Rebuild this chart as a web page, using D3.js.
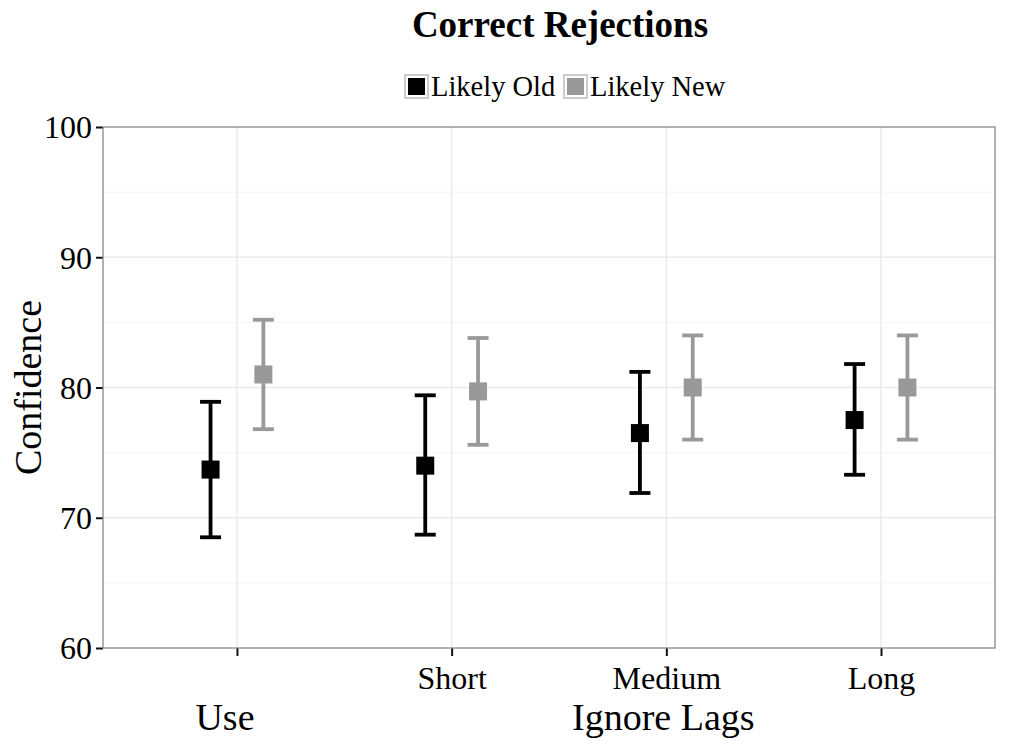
<!DOCTYPE html>
<html>
<head>
<meta charset="utf-8">
<script src="https://cdn.jsdelivr.net/npm/d3@7"></script>
<style>
    body { margin: 0; background: #fff; }
    #chart-area { width: 1011px; height: 751px; }
    text { font-family: "Liberation Serif", "Times New Roman", serif; fill: #000; }
</style>
</head>
<body>
<div id="chart-area"></div>
<script>

// data
let categories = ["Use", "Short", "Medium", "Long"];
let tickLabels = ["", "Short", "Medium", "Long"];
let seriesNames = ["Likely Old", "Likely New"];
let seriesColors = ["#000000", "#999999"];

let oldMean = [73.7, 74.0, 76.5, 77.5];
let oldLow  = [68.5, 68.7, 71.9, 73.3];
let oldHigh = [78.9, 79.4, 81.2, 81.8];

let newMean = [81.0, 79.7, 80.0, 80.0];
let newLow  = [76.8, 75.6, 76.0, 76.0];
let newHigh = [85.2, 83.8, 84.0, 84.0];

let yTicks = [60, 70, 80, 90, 100];
let yMinor = [65, 75, 85, 95];

class errorBarVis {
    constructor(parentElement){
        this.parentElement = parentElement;
        this.initVis()
    }

    initVis(){
        let vis = this;

        vis.margin = {top: 127, right: 16, bottom: 103, left: 103};
        vis.width = 1011 - vis.margin.left - vis.margin.right;
        vis.height = 751 - vis.margin.top - vis.margin.bottom;

        vis.root = d3.select("#" + vis.parentElement).append("svg")
            .attr("width", 1011)
            .attr("height", 751);

        vis.svg = vis.root.append("g")
            .attr("transform", `translate (${vis.margin.left}, ${vis.margin.top})`);

        // scales
        vis.x = d3.scaleLinear()
            .domain([-0.624, 3.531])
            .range([0, vis.width]);

        vis.y = d3.scaleLinear()
            .domain([60, 100])
            .range([vis.height, 0]);

        vis.dodge = 0.123;

        // grid
        vis.svg.selectAll(".minor-grid")
            .data(yMinor)
            .enter().append("line")
            .attr("x1", 0).attr("x2", vis.width)
            .attr("y1", d => vis.y(d)).attr("y2", d => vis.y(d))
            .attr("stroke", "#f7f7f7")
            .attr("stroke-width", 1.5);

        vis.svg.selectAll(".major-grid")
            .data(yTicks.slice(1, -1))
            .enter().append("line")
            .attr("x1", 0).attr("x2", vis.width)
            .attr("y1", d => vis.y(d)).attr("y2", d => vis.y(d))
            .attr("stroke", "#ebebeb")
            .attr("stroke-width", 1.5);

        vis.svg.selectAll(".x-grid")
            .data(categories.map((d, i) => i))
            .enter().append("line")
            .attr("x1", d => vis.x(d)).attr("x2", d => vis.x(d))
            .attr("y1", 0).attr("y2", vis.height)
            .attr("stroke", "#ebebeb")
            .attr("stroke-width", 1.5);

        // axes
        vis.xAxis = d3.axisBottom(vis.x)
            .tickValues([0, 1, 2, 3])
            .tickFormat(i => tickLabels[i])
            .tickSize(8)
            .tickPadding(4);

        vis.yAxis = d3.axisLeft(vis.y)
            .tickValues(yTicks)
            .tickSize(7)
            .tickPadding(4);

        let gx = vis.svg.append("g")
            .attr("class", "x-axis axis")
            .attr("transform", "translate(0," + vis.height + ")")
            .call(vis.xAxis);

        let gy = vis.svg.append("g")
            .attr("class", "y-axis axis")
            .call(vis.yAxis);

        [gx, gy].forEach(g => {
            g.select(".domain").remove();
            g.selectAll(".tick line").attr("stroke", "#111").attr("stroke-width", 2);
            g.selectAll("text")
                .style("font-family", "Liberation Serif")
                .style("font-size", "32px")
                .attr("fill", "#000");
        });
        gy.selectAll("text").attr("dy", "0.34em");
        gx.selectAll("text").attr("dy", "0.9em");

        // panel border
        vis.svg.append("rect")
            .attr("width", vis.width)
            .attr("height", vis.height)
            .attr("fill", "none")
            .attr("stroke", "#7f7f7f")
            .attr("stroke-width", 1.2);

        // axis titles
        vis.svg.append("text")
            .attr("x", vis.x(0) - 12)
            .attr("y", vis.height + 82)
            .attr("text-anchor", "middle")
            .style("font-size", "38px")
            .text(categories[0]);

        vis.svg.append("text")
            .attr("x", (vis.x(1) + vis.x(3)) / 2 - 3)
            .attr("y", vis.height + 82)
            .attr("text-anchor", "middle")
            .style("font-size", "38px")
            .text("Ignore Lags");

        vis.root.append("text")
            .attr("transform", `translate(41, ${vis.margin.top + vis.y(80)}) rotate(-90)`)
            .attr("text-anchor", "middle")
            .style("font-size", "38px")
            .text("Confidence");

        // title
        vis.root.append("text")
            .attr("x", 560)
            .attr("y", 37)
            .attr("text-anchor", "middle")
            .style("font-size", "37px")
            .style("font-weight", "bold")
            .text("Correct Rejections");

        // legend
        let legend = vis.root.append("g")
            .attr("transform", "translate(404, 74)");
        let legendX = [0, 159];
        seriesNames.forEach((name, i) => {
            let g = legend.append("g").attr("transform", `translate(${legendX[i]}, 0)`);
            g.append("rect")
                .attr("x", 1).attr("y", 1)
                .attr("width", 23).attr("height", 23)
                .attr("fill", "#fff")
                .attr("stroke", "#cccccc")
                .attr("stroke-width", 2);
            g.append("rect")
                .attr("x", 4).attr("y", 4)
                .attr("width", 17).attr("height", 17)
                .attr("fill", seriesColors[i]);
            g.append("text")
                .attr("x", 27)
                .attr("y", 22)
                .style("font-size", "28.5px")
                .text(name);
        });

        vis.wrangleData();
    }

    wrangleData(){
        let vis = this;

        vis.displayData = [];
        categories.forEach((c, i) => {
            vis.displayData.push({cat: i, series: 0, mean: oldMean[i], low: oldLow[i], high: oldHigh[i]});
            vis.displayData.push({cat: i, series: 1, mean: newMean[i], low: newLow[i], high: newHigh[i]});
        });

        vis.updateVis();
    }

    updateVis(){
        let vis = this;

        let px = d => vis.x(d.cat + (d.series === 0 ? -vis.dodge : vis.dodge));
        let capHalf = 10.5;
        let pointSize = 18;

        let bars = vis.svg.selectAll(".errbar")
            .data(vis.displayData)
            .enter().append("g")
            .attr("class", "errbar")
            .attr("stroke", d => seriesColors[d.series])
            .attr("fill", d => seriesColors[d.series]);

        bars.append("line")
            .attr("x1", px).attr("x2", px)
            .attr("y1", d => vis.y(d.low)).attr("y2", d => vis.y(d.high))
            .attr("stroke-width", 3.8);

        bars.append("line")
            .attr("x1", d => px(d) - capHalf).attr("x2", d => px(d) + capHalf)
            .attr("y1", d => vis.y(d.high)).attr("y2", d => vis.y(d.high))
            .attr("stroke-width", 3.8);

        bars.append("line")
            .attr("x1", d => px(d) - capHalf).attr("x2", d => px(d) + capHalf)
            .attr("y1", d => vis.y(d.low)).attr("y2", d => vis.y(d.low))
            .attr("stroke-width", 3.8);

        bars.append("rect")
            .attr("x", d => px(d) - pointSize / 2)
            .attr("y", d => vis.y(d.mean) - pointSize / 2)
            .attr("width", pointSize)
            .attr("height", pointSize)
            .attr("stroke", "none");
    }
}

let myVis = new errorBarVis("chart-area");
</script>
</body>
</html>
